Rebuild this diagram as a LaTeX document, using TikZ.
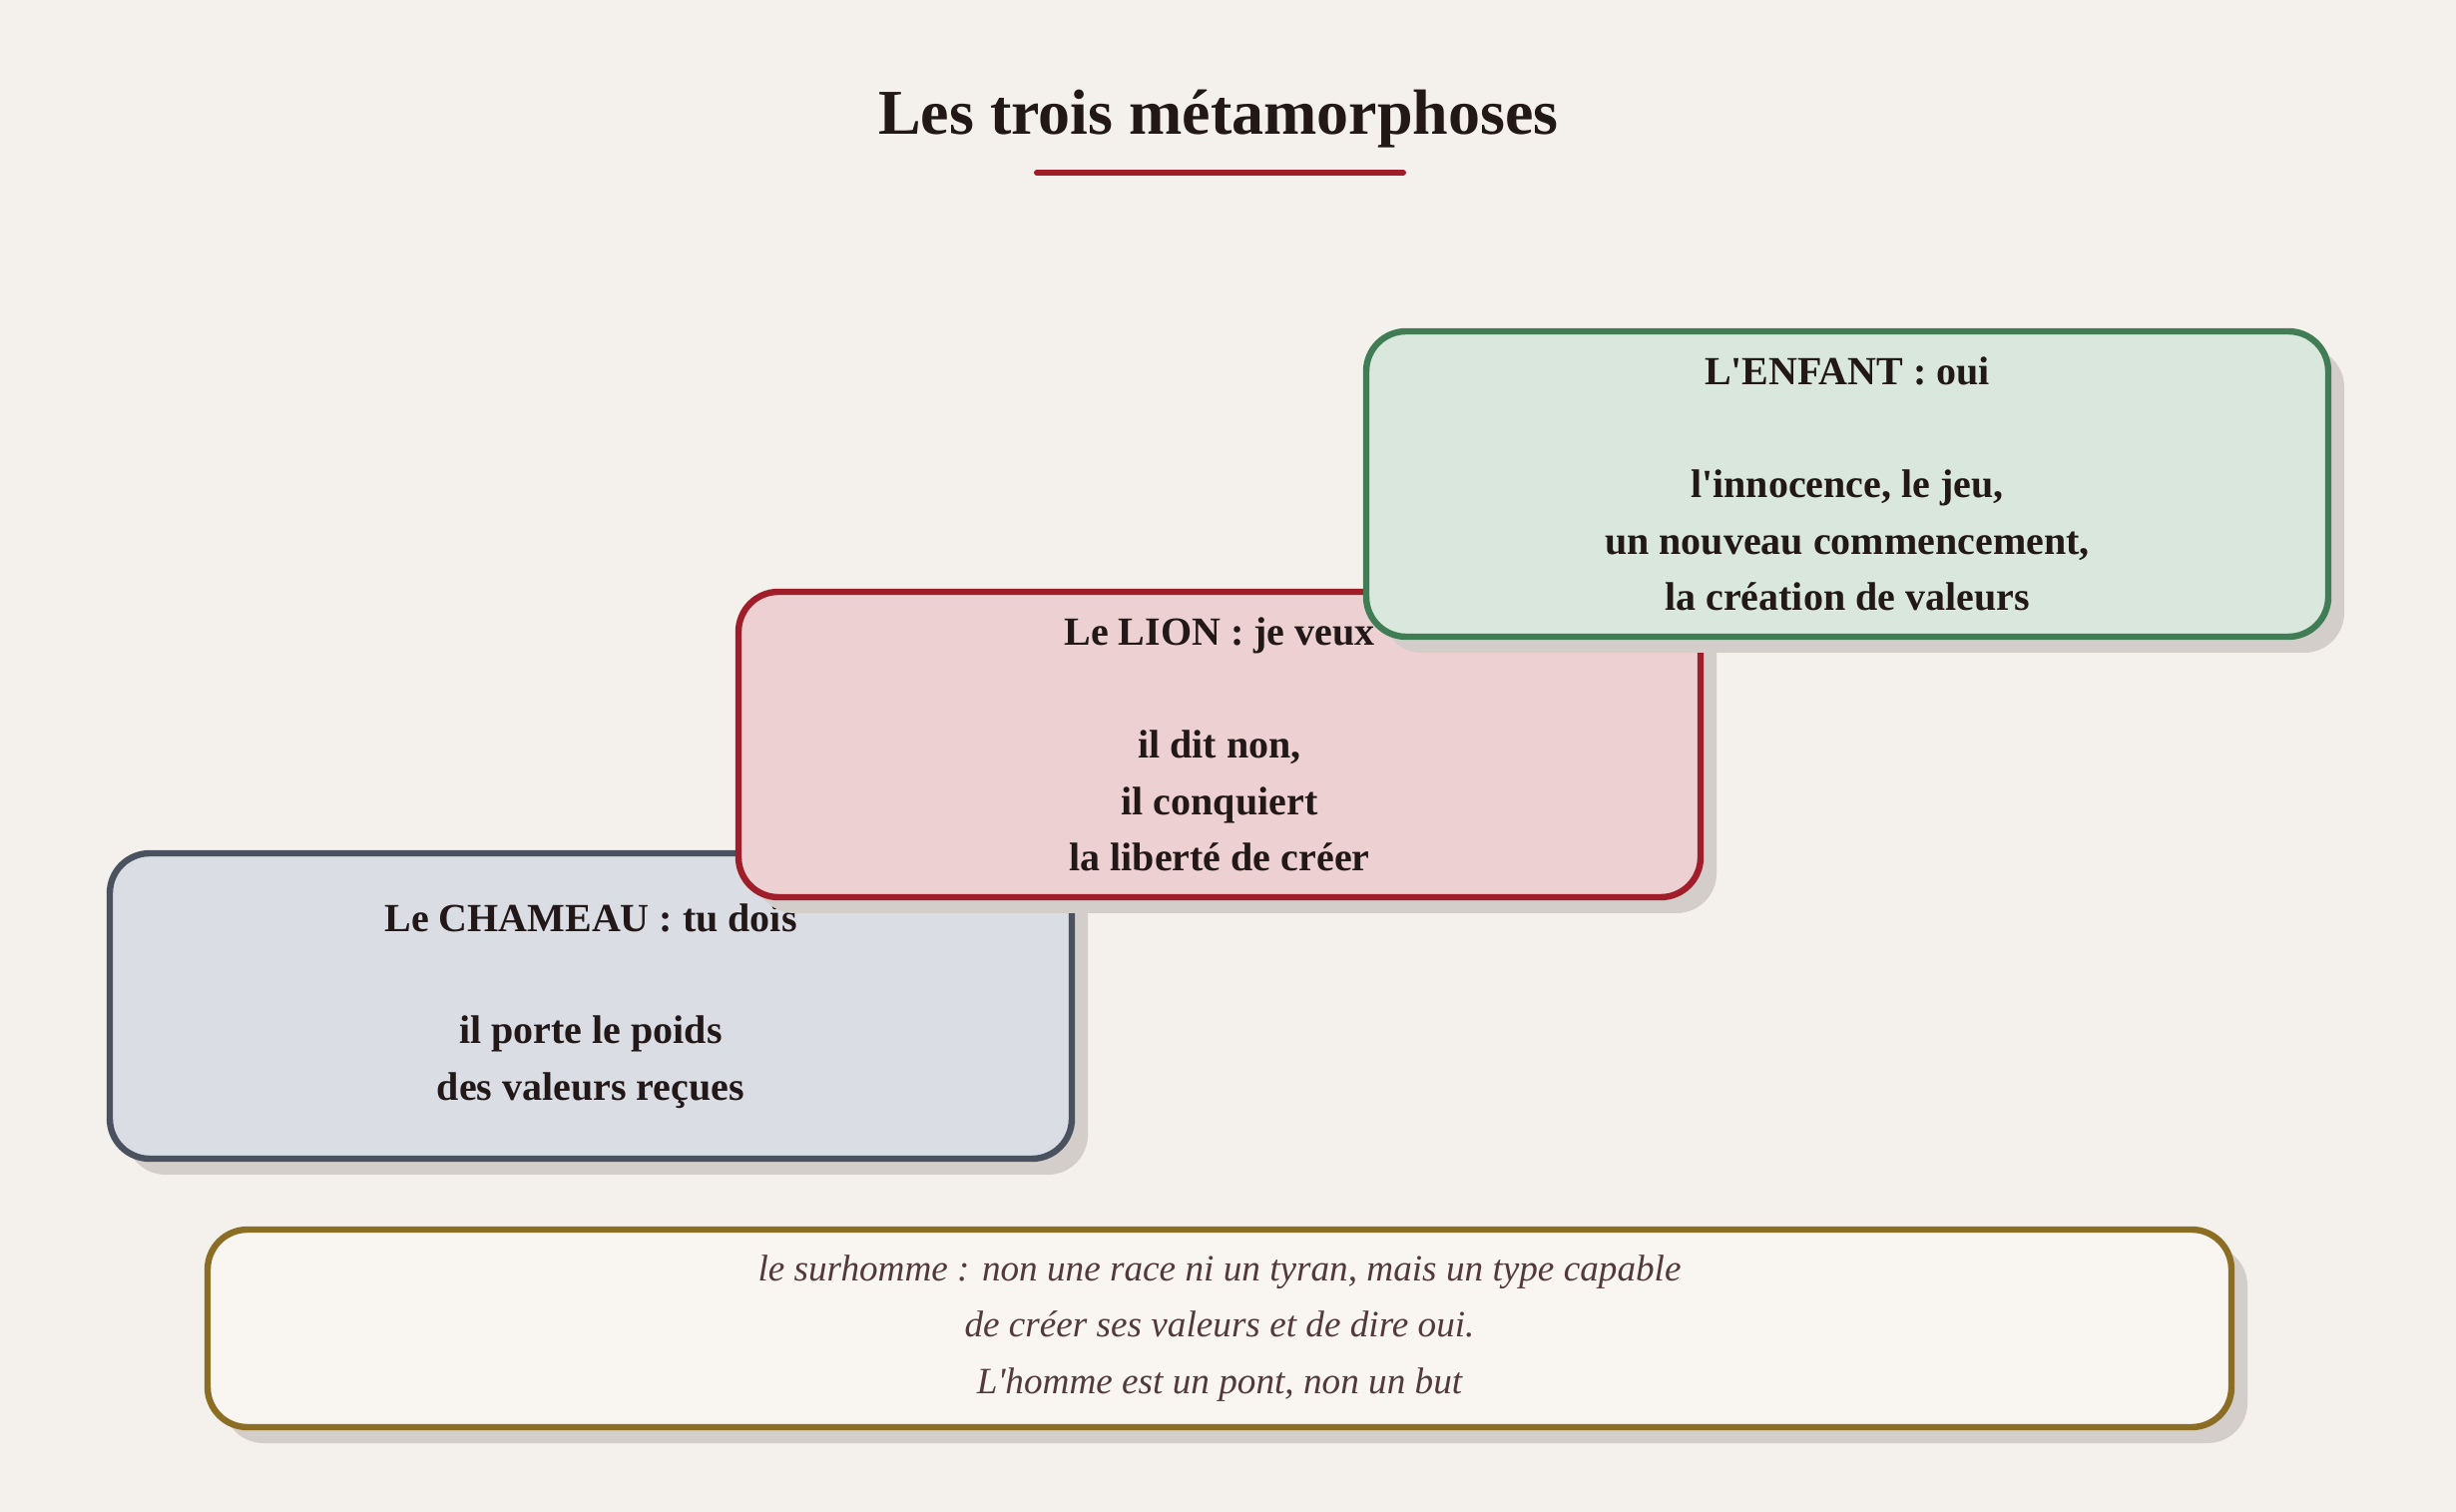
\documentclass[tikz,border=0pt]{standalone}
\usepackage{fontspec}
\setmainfont{Liberation Serif}
\usepackage{xcolor}
\usetikzlibrary{shadows}

\definecolor{paper}{RGB}{244,240,236}
\definecolor{ink}{RGB}{35,24,24}
\definecolor{inksoft}{RGB}{82,58,60}
\definecolor{shade}{RGB}{211,206,202}
\definecolor{titlered}{RGB}{160,30,42}
\definecolor{camelfill}{RGB}{218,221,227}
\definecolor{camelline}{RGB}{74,82,96}
\definecolor{lionfill}{RGB}{236,208,210}
\definecolor{lionline}{RGB}{160,30,42}
\definecolor{childfill}{RGB}{217,231,220}
\definecolor{childline}{RGB}{64,125,85}
\definecolor{notefill}{RGB}{249,245,241}
\definecolor{noteline}{RGB}{139,110,35}

\begin{document}
\begin{tikzpicture}[x=0.25pt, y=-0.25pt,
  stage/.style={draw, line width=1.6pt, rounded corners=10pt,
    minimum width=241pt, minimum height=76.5pt, align=center, text=ink,
    font=\bfseries\fontsize{10}{14.1}\selectfont,
    drop shadow={shadow xshift=4pt, shadow yshift=-4pt, fill=shade, opacity=1}},
  note/.style={stage, minimum width=507pt, minimum height=49.5pt, text=inksoft,
    font=\itshape\fontsize{9.3}{14.1}\selectfont}]
\path[use as bounding box, fill=paper] (0,0) rectangle (2461,1515);

% titre
\node[anchor=base, text=ink, font=\bfseries\fontsize{16}{19}\selectfont] (titre) at (1221,135) {Les trois métamorphoses};
\draw[titlered, line width=1.5pt, line cap=round] (1039,173) -- (1406,173);

% les trois etapes
\node[stage, fill=camelfill, draw=camelline] (chameau) at (592,1008)
  {Le CHAMEAU : tu dois\\[14.1pt] il porte le poids\\ des valeurs reçues};
\node[stage, fill=lionfill, draw=lionline] (lion) at (1222,746)
  {Le LION : je veux\\[14.1pt] il dit non,\\ il conquiert\\ la liberté de créer};
\node[stage, fill=childfill, draw=childline] (enfant) at (1851,485)
  {L{\textquotesingle}ENFANT : oui\\[14.1pt] l{\textquotesingle}innocence, le jeu,\\ un nouveau commencement,\\ la création de valeurs};

% surhomme
\node[note, fill=notefill, draw=noteline] (surhomme) at (1222,1331)
  {le surhomme : non une race ni un tyran, mais un type capable\\ de créer ses valeurs et de dire oui.\\ L{\textquotesingle}homme est un pont, non un but};
\end{tikzpicture}
\end{document}
